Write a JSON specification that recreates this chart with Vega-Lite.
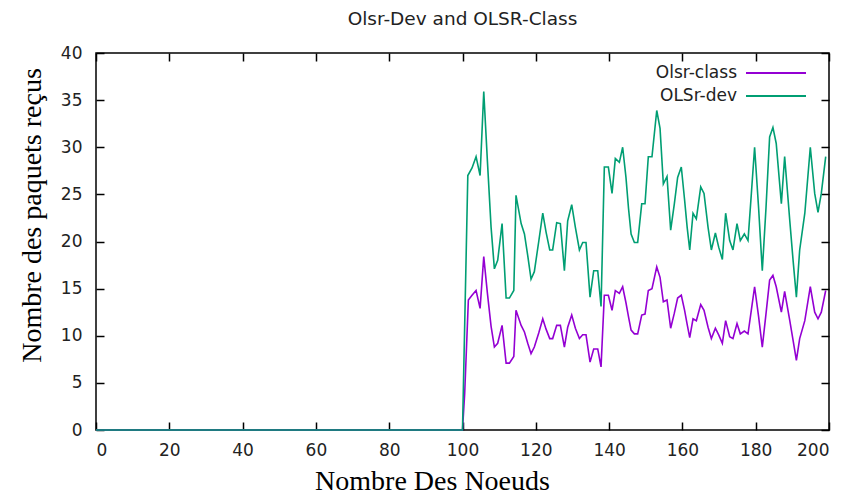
{
  "$schema": "https://vega.github.io/schema/vega-lite/v6.json",
  "width": 733,
  "height": 377,
  "autosize": {"type": "none"},
  "padding": {"left": 96, "top": 53, "right": 24, "bottom": 64},
  "background": "white",
  "title": {"text": "Olsr-Dev and OLSR-Class", "font": "DejaVu Sans", "fontSize": 18.5, "fontWeight": "normal", "color": "#222", "anchor": "middle", "offset": 16},
  "config": {"view": {"stroke": "#000", "strokeWidth": 1.5}},
  "data": {"values": [
    {"series":"Olsr-class","x":0,"v":0},{"series":"Olsr-class","x":100,"v":0},{"series":"Olsr-class","x":100.6,"v":3.9},{"series":"Olsr-class","x":101.6,"v":13.8},{"series":"Olsr-class","x":102.6,"v":14.3},{"series":"Olsr-class","x":103.7,"v":14.8},{"series":"Olsr-class","x":104.8,"v":12.9},{"series":"Olsr-class","x":105.8,"v":18.4},{"series":"Olsr-class","x":106.8,"v":14.5},{"series":"Olsr-class","x":107.8,"v":11.0},{"series":"Olsr-class","x":108.7,"v":8.8},{"series":"Olsr-class","x":109.6,"v":9.2},{"series":"Olsr-class","x":110.8,"v":11.1},{"series":"Olsr-class","x":111.9,"v":7.1},{"series":"Olsr-class","x":112.8,"v":7.1},{"series":"Olsr-class","x":114.0,"v":7.8},{"series":"Olsr-class","x":114.6,"v":12.7},{"series":"Olsr-class","x":116.0,"v":11.1},{"series":"Olsr-class","x":116.9,"v":10.4},{"series":"Olsr-class","x":117.8,"v":9.2},{"series":"Olsr-class","x":118.7,"v":8.1},{"series":"Olsr-class","x":119.6,"v":8.8},{"series":"Olsr-class","x":120.8,"v":10.3},{"series":"Olsr-class","x":121.9,"v":11.8},{"series":"Olsr-class","x":122.8,"v":10.7},{"series":"Olsr-class","x":123.8,"v":9.7},{"series":"Olsr-class","x":124.6,"v":9.7},{"series":"Olsr-class","x":125.7,"v":11.1},{"series":"Olsr-class","x":126.7,"v":11.1},{"series":"Olsr-class","x":127.8,"v":8.8},{"series":"Olsr-class","x":128.7,"v":10.9},{"series":"Olsr-class","x":129.8,"v":12.2},{"series":"Olsr-class","x":130.8,"v":10.8},{"series":"Olsr-class","x":131.9,"v":9.7},{"series":"Olsr-class","x":132.8,"v":10.1},{"series":"Olsr-class","x":133.7,"v":10.1},{"series":"Olsr-class","x":134.8,"v":7.2},{"series":"Olsr-class","x":135.8,"v":8.6},{"series":"Olsr-class","x":136.9,"v":8.6},{"series":"Olsr-class","x":137.8,"v":6.7},{"series":"Olsr-class","x":138.7,"v":14.3},{"series":"Olsr-class","x":139.8,"v":14.3},{"series":"Olsr-class","x":140.8,"v":12.7},{"series":"Olsr-class","x":141.7,"v":14.8},{"series":"Olsr-class","x":142.8,"v":14.5},{"series":"Olsr-class","x":143.7,"v":15.2},{"series":"Olsr-class","x":144.6,"v":13.5},{"series":"Olsr-class","x":145.3,"v":12.0},{"series":"Olsr-class","x":146.0,"v":10.6},{"series":"Olsr-class","x":146.9,"v":10.2},{"series":"Olsr-class","x":147.8,"v":10.2},{"series":"Olsr-class","x":148.9,"v":12.2},{"series":"Olsr-class","x":149.8,"v":12.3},{"series":"Olsr-class","x":150.7,"v":14.8},{"series":"Olsr-class","x":151.7,"v":15.0},{"series":"Olsr-class","x":153.0,"v":17.3},{"series":"Olsr-class","x":153.9,"v":16.2},{"series":"Olsr-class","x":154.8,"v":13.6},{"series":"Olsr-class","x":155.8,"v":13.8},{"series":"Olsr-class","x":156.8,"v":10.8},{"series":"Olsr-class","x":157.8,"v":12.4},{"series":"Olsr-class","x":158.7,"v":14.0},{"series":"Olsr-class","x":159.7,"v":14.3},{"series":"Olsr-class","x":160.6,"v":12.7},{"series":"Olsr-class","x":161.3,"v":11.2},{"series":"Olsr-class","x":162.0,"v":9.8},{"series":"Olsr-class","x":162.9,"v":11.8},{"series":"Olsr-class","x":163.8,"v":11.6},{"series":"Olsr-class","x":165.0,"v":13.3},{"series":"Olsr-class","x":165.9,"v":12.7},{"series":"Olsr-class","x":167.0,"v":10.9},{"series":"Olsr-class","x":167.9,"v":9.7},{"series":"Olsr-class","x":169.0,"v":10.8},{"series":"Olsr-class","x":169.9,"v":10.1},{"series":"Olsr-class","x":170.9,"v":9.2},{"series":"Olsr-class","x":171.8,"v":11.6},{"series":"Olsr-class","x":172.9,"v":9.9},{"series":"Olsr-class","x":173.8,"v":9.7},{"series":"Olsr-class","x":174.9,"v":11.3},{"series":"Olsr-class","x":175.8,"v":10.2},{"series":"Olsr-class","x":176.9,"v":10.5},{"series":"Olsr-class","x":177.9,"v":10.2},{"series":"Olsr-class","x":178.8,"v":12.7},{"series":"Olsr-class","x":179.7,"v":15.2},{"series":"Olsr-class","x":180.8,"v":12.0},{"series":"Olsr-class","x":181.8,"v":8.8},{"series":"Olsr-class","x":182.8,"v":12.3},{"series":"Olsr-class","x":183.8,"v":15.9},{"series":"Olsr-class","x":184.7,"v":16.4},{"series":"Olsr-class","x":185.6,"v":15.2},{"series":"Olsr-class","x":187.0,"v":12.5},{"series":"Olsr-class","x":187.9,"v":14.7},{"series":"Olsr-class","x":189.3,"v":11.6},{"series":"Olsr-class","x":190.2,"v":9.5},{"series":"Olsr-class","x":191.1,"v":7.4},{"series":"Olsr-class","x":192.0,"v":9.7},{"series":"Olsr-class","x":193.4,"v":11.6},{"series":"Olsr-class","x":194.9,"v":15.2},{"series":"Olsr-class","x":196.1,"v":12.5},{"series":"Olsr-class","x":197.0,"v":11.8},{"series":"Olsr-class","x":197.9,"v":12.5},{"series":"Olsr-class","x":199.1,"v":14.8},
    {"series":"OLSr-dev","x":0,"v":0},{"series":"OLSr-dev","x":100,"v":0},{"series":"OLSr-dev","x":101.45,"v":27.0},{"series":"OLSr-dev","x":102.6,"v":27.8},{"series":"OLSr-dev","x":103.7,"v":29.0},{"series":"OLSr-dev","x":104.8,"v":27.0},{"series":"OLSr-dev","x":105.8,"v":35.9},{"series":"OLSr-dev","x":106.8,"v":28.5},{"series":"OLSr-dev","x":107.8,"v":21.5},{"series":"OLSr-dev","x":108.7,"v":17.1},{"series":"OLSr-dev","x":109.6,"v":18.0},{"series":"OLSr-dev","x":110.8,"v":21.9},{"series":"OLSr-dev","x":111.9,"v":14.0},{"series":"OLSr-dev","x":112.8,"v":14.0},{"series":"OLSr-dev","x":114.0,"v":14.8},{"series":"OLSr-dev","x":114.6,"v":24.9},{"series":"OLSr-dev","x":116.0,"v":21.9},{"series":"OLSr-dev","x":116.9,"v":20.8},{"series":"OLSr-dev","x":117.8,"v":18.5},{"series":"OLSr-dev","x":118.7,"v":16.0},{"series":"OLSr-dev","x":119.6,"v":16.8},{"series":"OLSr-dev","x":120.8,"v":20.0},{"series":"OLSr-dev","x":121.9,"v":23.0},{"series":"OLSr-dev","x":122.8,"v":21.0},{"series":"OLSr-dev","x":123.8,"v":19.1},{"series":"OLSr-dev","x":124.6,"v":19.1},{"series":"OLSr-dev","x":125.7,"v":22.0},{"series":"OLSr-dev","x":126.7,"v":21.9},{"series":"OLSr-dev","x":127.8,"v":16.9},{"series":"OLSr-dev","x":128.7,"v":22.2},{"series":"OLSr-dev","x":129.8,"v":23.9},{"series":"OLSr-dev","x":130.8,"v":21.5},{"series":"OLSr-dev","x":131.9,"v":19.1},{"series":"OLSr-dev","x":132.8,"v":19.9},{"series":"OLSr-dev","x":133.7,"v":19.9},{"series":"OLSr-dev","x":134.8,"v":14.1},{"series":"OLSr-dev","x":135.8,"v":16.9},{"series":"OLSr-dev","x":136.9,"v":16.9},{"series":"OLSr-dev","x":137.8,"v":13.1},{"series":"OLSr-dev","x":138.7,"v":27.9},{"series":"OLSr-dev","x":139.8,"v":27.9},{"series":"OLSr-dev","x":140.8,"v":25.1},{"series":"OLSr-dev","x":141.7,"v":28.8},{"series":"OLSr-dev","x":142.8,"v":28.4},{"series":"OLSr-dev","x":143.7,"v":30.0},{"series":"OLSr-dev","x":144.6,"v":26.8},{"series":"OLSr-dev","x":145.3,"v":23.5},{"series":"OLSr-dev","x":146.0,"v":20.8},{"series":"OLSr-dev","x":146.9,"v":19.9},{"series":"OLSr-dev","x":147.8,"v":19.9},{"series":"OLSr-dev","x":148.9,"v":24.0},{"series":"OLSr-dev","x":149.8,"v":24.0},{"series":"OLSr-dev","x":150.7,"v":29.0},{"series":"OLSr-dev","x":151.7,"v":29.0},{"series":"OLSr-dev","x":153.0,"v":33.9},{"series":"OLSr-dev","x":153.9,"v":32.0},{"series":"OLSr-dev","x":154.8,"v":26.1},{"series":"OLSr-dev","x":155.8,"v":26.9},{"series":"OLSr-dev","x":156.8,"v":21.2},{"series":"OLSr-dev","x":157.8,"v":24.0},{"series":"OLSr-dev","x":158.7,"v":26.8},{"series":"OLSr-dev","x":159.7,"v":27.9},{"series":"OLSr-dev","x":160.6,"v":24.4},{"series":"OLSr-dev","x":161.3,"v":21.5},{"series":"OLSr-dev","x":162.0,"v":19.1},{"series":"OLSr-dev","x":162.9,"v":23.0},{"series":"OLSr-dev","x":163.8,"v":22.4},{"series":"OLSr-dev","x":165.0,"v":25.8},{"series":"OLSr-dev","x":165.9,"v":25.1},{"series":"OLSr-dev","x":167.0,"v":21.5},{"series":"OLSr-dev","x":167.9,"v":19.1},{"series":"OLSr-dev","x":169.0,"v":20.9},{"series":"OLSr-dev","x":169.9,"v":19.4},{"series":"OLSr-dev","x":170.9,"v":18.1},{"series":"OLSr-dev","x":171.8,"v":23.0},{"series":"OLSr-dev","x":172.9,"v":20.1},{"series":"OLSr-dev","x":173.8,"v":19.1},{"series":"OLSr-dev","x":174.9,"v":21.9},{"series":"OLSr-dev","x":175.8,"v":20.1},{"series":"OLSr-dev","x":176.9,"v":20.8},{"series":"OLSr-dev","x":177.9,"v":20.1},{"series":"OLSr-dev","x":178.8,"v":25.0},{"series":"OLSr-dev","x":179.7,"v":30.0},{"series":"OLSr-dev","x":180.8,"v":23.5},{"series":"OLSr-dev","x":181.8,"v":16.9},{"series":"OLSr-dev","x":182.8,"v":23.5},{"series":"OLSr-dev","x":183.8,"v":31.1},{"series":"OLSr-dev","x":184.7,"v":32.1},{"series":"OLSr-dev","x":185.6,"v":30.4},{"series":"OLSr-dev","x":187.0,"v":24.0},{"series":"OLSr-dev","x":187.9,"v":29.0},{"series":"OLSr-dev","x":189.3,"v":22.2},{"series":"OLSr-dev","x":190.2,"v":18.0},{"series":"OLSr-dev","x":191.1,"v":14.1},{"series":"OLSr-dev","x":192.0,"v":19.1},{"series":"OLSr-dev","x":193.4,"v":23.0},{"series":"OLSr-dev","x":194.9,"v":30.0},{"series":"OLSr-dev","x":196.1,"v":25.1},{"series":"OLSr-dev","x":197.0,"v":23.1},{"series":"OLSr-dev","x":197.9,"v":25.1},{"series":"OLSr-dev","x":199.1,"v":29.0}
  ]},
  "layer": [
    {
      "mark": {"type": "line", "strokeWidth": 1.6},
      "encoding": {
        "x": {"field": "x", "type": "quantitative", "scale": {"domain": [0, 200], "nice": false, "zero": false},
              "axis": {"orient": "bottom", "values": [0,20,40,60,80,100,120,140,160,180,200], "grid": false, "domain": false,
                       "tickSize": -8, "tickColor": "#000", "tickWidth": 1.5,
                       "labelFont": "DejaVu Sans", "labelFontSize": 17, "labelColor": "#222", "labelPadding": 20,
                       "title": "Nombre Des Noeuds", "titleFont": "Liberation Serif", "titleFontSize": 28, "titleFontWeight": "normal", "titleColor": "#000", "titlePadding": 9, "titleX": 336}},
        "y": {"field": "v", "type": "quantitative", "scale": {"domain": [0, 40], "nice": false},
              "axis": {"orient": "left", "values": [0,5,10,15,20,25,30,35,40], "grid": false, "domain": false,
                       "tickSize": -8, "tickColor": "#000", "tickWidth": 1.5,
                       "labelFont": "DejaVu Sans", "labelFontSize": 17, "labelColor": "#222", "labelPadding": 22,
                       "title": "Nombre des paquets reçus", "titleFont": "Liberation Serif", "titleFontSize": 28, "titleFontWeight": "normal", "titleColor": "#000", "titlePadding": 14, "titleY": 162}},
        "color": {"field": "series", "type": "nominal",
                  "scale": {"domain": ["Olsr-class", "OLSr-dev"], "range": ["#9400D3", "#009E73"]},
                  "legend": {"orient": "none", "legendX": 669, "legendY": 9, "title": null, "padding": 0, "rowPadding": 4,
                             "symbolType": "M-3,0H3", "symbolSize": 400, "symbolStrokeWidth": 2,
                             "labelAlign": "right", "labelOffset": -50, "labelFont": "DejaVu Sans", "labelFontSize": 17, "labelColor": "#222"}}
      }
    },
    {
      "mark": {"type": "line", "opacity": 0},
      "encoding": {
        "x": {"field": "x", "type": "quantitative",
              "axis": {"orient": "top", "values": [0,20,40,60,80,100,120,140,160,180,200], "grid": false, "domain": false, "labels": false, "title": null,
                       "tickSize": -8, "tickColor": "#000", "tickWidth": 1.5}},
        "y": {"field": "v", "type": "quantitative",
              "axis": {"orient": "right", "values": [0,5,10,15,20,25,30,35,40], "grid": false, "domain": false, "labels": false, "title": null,
                       "tickSize": -8, "tickColor": "#000", "tickWidth": 1.5}}
      }
    }
  ],
  "resolve": {"axis": {"x": "independent", "y": "independent"}}
}
